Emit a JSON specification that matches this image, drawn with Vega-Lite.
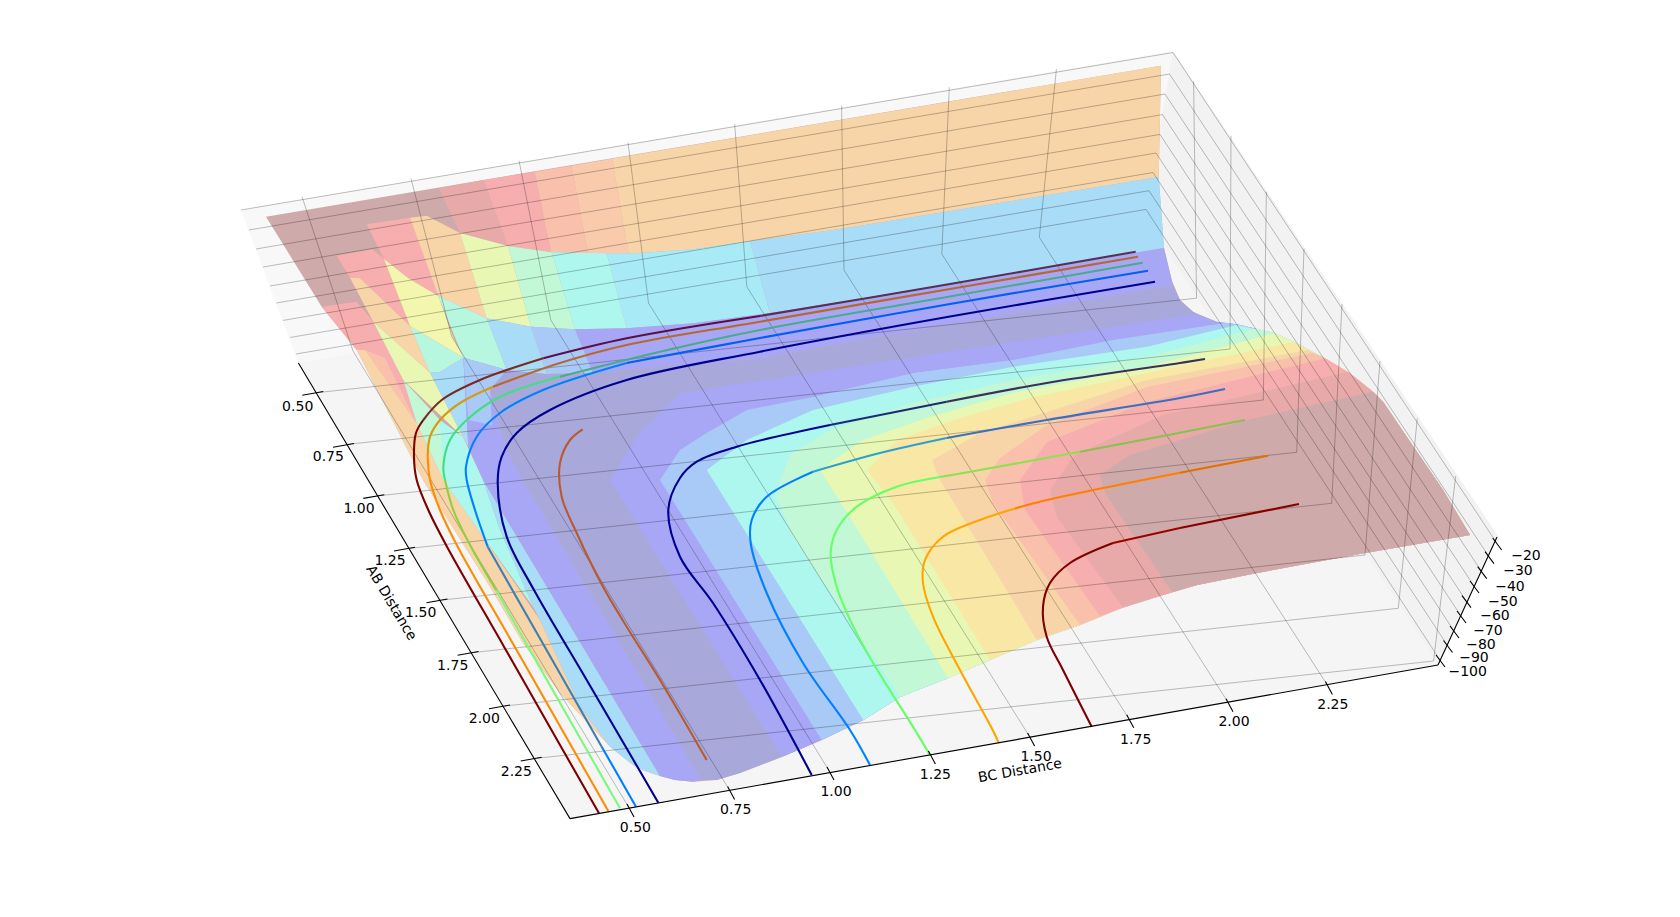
{
"$schema":"https://vega.github.io/schema/vega-lite/v6.json",
"width":1680,"height":917,"padding":0,"autosize":{"type":"fit","contains":"padding"},
"background":"white",
"config":{"view":{"stroke":null}},
"datasets":{
"surface":[
{"shape":"wall_l","band":"wall_l","u":241,"v":210},{"shape":"wall_l","band":"wall_l","u":1173,"v":51},{"shape":"wall_l","band":"wall_l","u":1144,"v":217.5},{"shape":"wall_l","band":"wall_l","u":298.4,"v":363},
{"shape":"wall_r","band":"wall_r","u":1173,"v":51},{"shape":"wall_r","band":"wall_r","u":1498,"v":536},{"shape":"wall_r","band":"wall_r","u":1438,"v":665},{"shape":"wall_r","band":"wall_r","u":1144,"v":217.5},
{"shape":"floor","band":"floor","u":298.4,"v":363},{"shape":"floor","band":"floor","u":1144,"v":217.5},{"shape":"floor","band":"floor","u":1438,"v":665},{"shape":"floor","band":"floor","u":570,"v":818.6},

{"shape":"base","band":"M","u":266,"v":216.7},{"shape":"base","band":"M","u":1161,"v":65.7},{"shape":"base","band":"M","u":1158.7,"v":177},{"shape":"base","band":"M","u":1164,"v":248},{"shape":"base","band":"M","u":1171.7,"v":280},{"shape":"base","band":"M","u":1180,"v":300},{"shape":"base","band":"M","u":1193,"v":311.7},{"shape":"base","band":"M","u":1216.7,"v":321.7},{"shape":"base","band":"M","u":1236.7,"v":324.3},{"shape":"base","band":"M","u":1275,"v":333.3},{"shape":"base","band":"M","u":1296.7,"v":343.3},{"shape":"base","band":"M","u":1325,"v":358.3},{"shape":"base","band":"M","u":1350,"v":373.3},{"shape":"base","band":"M","u":1373,"v":391.7},{"shape":"base","band":"M","u":1383,"v":401.7},{"shape":"base","band":"M","u":1406.7,"v":436.7},{"shape":"base","band":"M","u":1443,"v":490},{"shape":"base","band":"M","u":1470,"v":535},{"shape":"base","band":"M","u":1365,"v":553},{"shape":"base","band":"M","u":1257,"v":573},{"shape":"base","band":"M","u":1197,"v":585},{"shape":"base","band":"M","u":1163,"v":595},{"shape":"base","band":"M","u":1123,"v":607.5},{"shape":"base","band":"M","u":1080,"v":625},{"shape":"base","band":"M","u":1036.7,"v":640},{"shape":"base","band":"M","u":990,"v":660},{"shape":"base","band":"M","u":948,"v":678},{"shape":"base","band":"M","u":900,"v":697},{"shape":"base","band":"M","u":863.3,"v":720},{"shape":"base","band":"M","u":821.7,"v":740},{"shape":"base","band":"M","u":781.7,"v":757},{"shape":"base","band":"M","u":740,"v":773},{"shape":"base","band":"M","u":716.7,"v":780},{"shape":"base","band":"M","u":693,"v":781.7},{"shape":"base","band":"M","u":675,"v":780},{"shape":"base","band":"M","u":660,"v":776},{"shape":"base","band":"M","u":645,"v":771},{"shape":"base","band":"M","u":633,"v":765},{"shape":"base","band":"M","u":610,"v":746.7},{"shape":"base","band":"M","u":606.7,"v":743},{"shape":"base","band":"M","u":560,"v":693},{"shape":"base","band":"M","u":523,"v":643},{"shape":"base","band":"M","u":490,"v":586.7},{"shape":"base","band":"M","u":450,"v":523},{"shape":"base","band":"M","u":423,"v":480},{"shape":"base","band":"M","u":356.7,"v":350},{"shape":"base","band":"M","u":321.7,"v":306.7},

{"shape":"top1","band":"R1","u":438.8,"v":188.3},{"shape":"top1","band":"R1","u":483.7,"v":180},{"shape":"top1","band":"R1","u":508,"v":246},{"shape":"top1","band":"R1","u":460,"v":233},
{"shape":"top2","band":"R2","u":483.7,"v":180},{"shape":"top2","band":"R2","u":534.7,"v":171.7},{"shape":"top2","band":"R2","u":551,"v":252},{"shape":"top2","band":"R2","u":508,"v":246},
{"shape":"top3","band":"Sal","u":534.7,"v":171.7},{"shape":"top3","band":"Sal","u":571.4,"v":165.7},{"shape":"top3","band":"Sal","u":588,"v":253.3},{"shape":"top3","band":"Sal","u":551,"v":252},
{"shape":"top4","band":"Sal2","u":571.4,"v":165.7},{"shape":"top4","band":"Sal2","u":612,"v":158.7},{"shape":"top4","band":"Sal2","u":628.6,"v":253.3},{"shape":"top4","band":"Sal2","u":588,"v":253.3},
{"shape":"top5","band":"O","u":612,"v":158.7},{"shape":"top5","band":"O","u":1161,"v":65.7},{"shape":"top5","band":"O","u":1158.7,"v":177},{"shape":"top5","band":"O","u":840,"v":229},{"shape":"top5","band":"O","u":760,"v":240},{"shape":"top5","band":"O","u":693,"v":249.3},{"shape":"top5","band":"O","u":636.7,"v":253.3},{"shape":"top5","band":"O","u":628.6,"v":253.3},

{"shape":"row2a","band":"R2","u":366.7,"v":224.3},{"shape":"row2a","band":"R2","u":410,"v":217.7},{"shape":"row2a","band":"R2","u":438.3,"v":296},{"shape":"row2a","band":"R2","u":408.3,"v":278.3},{"shape":"row2a","band":"R2","u":384,"v":259},
{"shape":"row2b","band":"O","u":410,"v":217.7},{"shape":"row2b","band":"O","u":426.7,"v":215.7},{"shape":"row2b","band":"O","u":460,"v":233},{"shape":"row2b","band":"O","u":486.7,"v":318.3},{"shape":"row2b","band":"O","u":438.3,"v":296},
{"shape":"row2c","band":"Yg","u":460,"v":233},{"shape":"row2c","band":"Yg","u":508,"v":246},{"shape":"row2c","band":"Yg","u":531,"v":326.7},{"shape":"row2c","band":"Yg","u":486.7,"v":318.3},
{"shape":"row2d","band":"G","u":508,"v":246},{"shape":"row2d","band":"G","u":551.7,"v":252.3},{"shape":"row2d","band":"G","u":575,"v":329.3},{"shape":"row2d","band":"G","u":531,"v":326.7},
{"shape":"row2e","band":"C","u":551.7,"v":252.3},{"shape":"row2e","band":"C","u":606.7,"v":253.3},{"shape":"row2e","band":"C","u":626.7,"v":328.3},{"shape":"row2e","band":"C","u":575,"v":329.3},
{"shape":"row2f","band":"LC","u":606.7,"v":253.3},{"shape":"row2f","band":"LC","u":636.7,"v":253.3},{"shape":"row2f","band":"LC","u":693,"v":249.3},{"shape":"row2f","band":"LC","u":750,"v":241},{"shape":"row2f","band":"LC","u":770,"v":313},{"shape":"row2f","band":"LC","u":693.3,"v":323.3},{"shape":"row2f","band":"LC","u":626.7,"v":328.3},
{"shape":"row2g","band":"LB","u":750,"v":241},{"shape":"row2g","band":"LB","u":840,"v":229},{"shape":"row2g","band":"LB","u":1158.7,"v":177},{"shape":"row2g","band":"LB","u":1164,"v":248},{"shape":"row2g","band":"LB","u":840,"v":302},{"shape":"row2g","band":"LB","u":770,"v":313},

{"shape":"row3a","band":"R2","u":336.7,"v":255.7},{"shape":"row3a","band":"R2","u":372.7,"v":249.3},{"shape":"row3a","band":"R2","u":384,"v":259},{"shape":"row3a","band":"R2","u":410,"v":326},{"shape":"row3a","band":"R2","u":360,"v":278.3},{"shape":"row3a","band":"R2","u":350,"v":277.7},
{"shape":"row3b","band":"Y","u":384,"v":259},{"shape":"row3b","band":"Y","u":408.3,"v":278.3},{"shape":"row3b","band":"Y","u":438.3,"v":296},{"shape":"row3b","band":"Y","u":453,"v":337},{"shape":"row3b","band":"Y","u":463.3,"v":357.7},{"shape":"row3b","band":"Y","u":410,"v":326},
{"shape":"row3c","band":"C2","u":438.3,"v":296},{"shape":"row3c","band":"C2","u":486.7,"v":318.3},{"shape":"row3c","band":"C2","u":506.7,"v":370},{"shape":"row3c","band":"C2","u":463.3,"v":357.7},
{"shape":"row3d","band":"LB","u":486.7,"v":318.3},{"shape":"row3d","band":"LB","u":531,"v":326.7},{"shape":"row3d","band":"LB","u":546.7,"v":374},{"shape":"row3d","band":"LB","u":506.7,"v":370},
{"shape":"row3e","band":"B","u":531,"v":326.7},{"shape":"row3e","band":"B","u":575,"v":329.3},{"shape":"row3e","band":"B","u":593,"v":373},{"shape":"row3e","band":"B","u":546.7,"v":374},
{"shape":"row3f","band":"P","u":575,"v":329.3},{"shape":"row3f","band":"P","u":626.7,"v":328.3},{"shape":"row3f","band":"P","u":693.3,"v":323.3},{"shape":"row3f","band":"P","u":770,"v":313},{"shape":"row3f","band":"P","u":840,"v":302},{"shape":"row3f","band":"P","u":1164,"v":248},{"shape":"row3f","band":"P","u":1171.7,"v":280},{"shape":"row3f","band":"P","u":1173,"v":285},{"shape":"row3f","band":"P","u":1165,"v":287},{"shape":"row3f","band":"P","u":840,"v":343.7},{"shape":"row3f","band":"P","u":760,"v":359},{"shape":"row3f","band":"P","u":660,"v":366.7},{"shape":"row3f","band":"P","u":593,"v":373},

{"shape":"left1","band":"R2","u":321.7,"v":306.7},{"shape":"left1","band":"R2","u":356.7,"v":301.7},{"shape":"left1","band":"R2","u":373.3,"v":321.7},{"shape":"left1","band":"R2","u":403.3,"v":380},{"shape":"left1","band":"R2","u":416.7,"v":423.3},{"shape":"left1","band":"R2","u":365,"v":350},{"shape":"left1","band":"R2","u":356.7,"v":350},
{"shape":"left2","band":"Sal","u":365,"v":350},{"shape":"left2","band":"Sal","u":385,"v":358},{"shape":"left2","band":"Sal","u":416.7,"v":423.3},
{"shape":"left3","band":"O","u":356.7,"v":350},{"shape":"left3","band":"O","u":365,"v":350},{"shape":"left3","band":"O","u":416.7,"v":423.3},{"shape":"left3","band":"O","u":443.3,"v":480},{"shape":"left3","band":"O","u":483,"v":536.7},{"shape":"left3","band":"O","u":540,"v":620},{"shape":"left3","band":"O","u":580,"v":706.7},{"shape":"left3","band":"O","u":610,"v":746.7},{"shape":"left3","band":"O","u":606.7,"v":743},{"shape":"left3","band":"O","u":560,"v":693},{"shape":"left3","band":"O","u":523,"v":643},{"shape":"left3","band":"O","u":490,"v":586.7},{"shape":"left3","band":"O","u":450,"v":523},{"shape":"left3","band":"O","u":423,"v":480},
{"shape":"left4","band":"O","u":350,"v":277.7},{"shape":"left4","band":"O","u":360,"v":278.3},{"shape":"left4","band":"O","u":410,"v":326},{"shape":"left4","band":"O","u":430,"v":372.7},{"shape":"left4","band":"O","u":373.3,"v":321.7},
{"shape":"left5","band":"Yg","u":373.3,"v":321.7},{"shape":"left5","band":"Yg","u":430,"v":372.7},{"shape":"left5","band":"Yg","u":463,"v":437},{"shape":"left5","band":"Yg","u":403.3,"v":380},
{"shape":"left6","band":"C2","u":410,"v":326},{"shape":"left6","band":"C2","u":463.3,"v":357.7},{"shape":"left6","band":"C2","u":440,"v":372},{"shape":"left6","band":"C2","u":430,"v":372.7},
{"shape":"left7","band":"LB","u":430,"v":372.7},{"shape":"left7","band":"LB","u":440,"v":372},{"shape":"left7","band":"LB","u":463.3,"v":357.7},{"shape":"left7","band":"LB","u":468.3,"v":446.7},{"shape":"left7","band":"LB","u":463,"v":437},
{"shape":"left8","band":"G","u":403.3,"v":380},{"shape":"left8","band":"G","u":440,"v":420},{"shape":"left8","band":"G","u":450,"v":490},{"shape":"left8","band":"G","u":443.3,"v":480},{"shape":"left8","band":"G","u":416.7,"v":423.3},
{"shape":"left9","band":"C","u":440,"v":420},{"shape":"left9","band":"C","u":463,"v":437},{"shape":"left9","band":"C","u":483,"v":480},{"shape":"left9","band":"C","u":500,"v":530},{"shape":"left9","band":"C","u":533,"v":606.7},{"shape":"left9","band":"C","u":483,"v":536.7},{"shape":"left9","band":"C","u":443.3,"v":480},
{"shape":"left10","band":"LB","u":483,"v":480},{"shape":"left10","band":"LB","u":660,"v":776},{"shape":"left10","band":"LB","u":645,"v":771},{"shape":"left10","band":"LB","u":633,"v":765},{"shape":"left10","band":"LB","u":610,"v":746.7},{"shape":"left10","band":"LB","u":580,"v":706.7},{"shape":"left10","band":"LB","u":540,"v":620},{"shape":"left10","band":"LB","u":533,"v":606.7},{"shape":"left10","band":"LB","u":500,"v":530},

{"shape":"mid1","band":"P","u":463.3,"v":357.7},{"shape":"mid1","band":"P","u":506.7,"v":370},{"shape":"mid1","band":"P","u":490,"v":390},{"shape":"mid1","band":"P","u":506.7,"v":450},{"shape":"mid1","band":"P","u":523,"v":480},{"shape":"mid1","band":"P","u":701.7,"v":780},{"shape":"mid1","band":"P","u":693,"v":781.7},{"shape":"mid1","band":"P","u":675,"v":780},{"shape":"mid1","band":"P","u":660,"v":776},{"shape":"mid1","band":"P","u":483,"v":480},{"shape":"mid1","band":"P","u":468.3,"v":446.7},
{"shape":"mid2","band":"B","u":463.3,"v":357.7},{"shape":"mid2","band":"B","u":506.7,"v":370},{"shape":"mid2","band":"B","u":490,"v":390},{"shape":"mid2","band":"B","u":492,"v":425},{"shape":"mid2","band":"B","u":468.3,"v":420},

{"shape":"dark","band":"D","u":523,"v":480},{"shape":"dark","band":"D","u":506.7,"v":450},{"shape":"dark","band":"D","u":490,"v":390},{"shape":"dark","band":"D","u":506.7,"v":370},{"shape":"dark","band":"D","u":546.7,"v":374},{"shape":"dark","band":"D","u":593,"v":373},{"shape":"dark","band":"D","u":660,"v":366.7},{"shape":"dark","band":"D","u":760,"v":359},{"shape":"dark","band":"D","u":840,"v":343.7},{"shape":"dark","band":"D","u":1165,"v":287},{"shape":"dark","band":"D","u":1173,"v":285},{"shape":"dark","band":"D","u":1180,"v":300},{"shape":"dark","band":"D","u":1193,"v":311.7},{"shape":"dark","band":"D","u":1197,"v":314},{"shape":"dark","band":"D","u":1197,"v":585},{"shape":"dark","band":"D","u":1163,"v":595},{"shape":"dark","band":"D","u":1123,"v":607.5},{"shape":"dark","band":"D","u":1080,"v":625},{"shape":"dark","band":"D","u":1036.7,"v":640},{"shape":"dark","band":"D","u":990,"v":660},{"shape":"dark","band":"D","u":948,"v":678},{"shape":"dark","band":"D","u":900,"v":697},{"shape":"dark","band":"D","u":863.3,"v":720},{"shape":"dark","band":"D","u":821.7,"v":740},{"shape":"dark","band":"D","u":781.7,"v":757},{"shape":"dark","band":"D","u":740,"v":773},{"shape":"dark","band":"D","u":716.7,"v":780},{"shape":"dark","band":"D","u":701.7,"v":780},

{"shape":"lvP","band":"P","u":781.7,"v":757},{"shape":"lvP","band":"P","u":610,"v":480},{"shape":"lvP","band":"P","u":640,"v":432},{"shape":"lvP","band":"P","u":680,"v":393},{"shape":"lvP","band":"P","u":1197,"v":314},{"shape":"lvP","band":"P","u":1216.7,"v":321.7},{"shape":"lvP","band":"P","u":1236.7,"v":324.3},{"shape":"lvP","band":"P","u":1275,"v":333.3},{"shape":"lvP","band":"P","u":1296.7,"v":343.3},{"shape":"lvP","band":"P","u":1325,"v":358.3},{"shape":"lvP","band":"P","u":1350,"v":373.3},{"shape":"lvP","band":"P","u":1373,"v":391.7},{"shape":"lvP","band":"P","u":1383,"v":401.7},{"shape":"lvP","band":"P","u":1406.7,"v":436.7},{"shape":"lvP","band":"P","u":1443,"v":490},{"shape":"lvP","band":"P","u":1470,"v":535},{"shape":"lvP","band":"P","u":1365,"v":553},{"shape":"lvP","band":"P","u":1257,"v":573},{"shape":"lvP","band":"P","u":1197,"v":585},{"shape":"lvP","band":"P","u":1163,"v":595},{"shape":"lvP","band":"P","u":1123,"v":607.5},{"shape":"lvP","band":"P","u":1080,"v":625},{"shape":"lvP","band":"P","u":1036.7,"v":640},{"shape":"lvP","band":"P","u":990,"v":660},{"shape":"lvP","band":"P","u":948,"v":678},{"shape":"lvP","band":"P","u":900,"v":697},{"shape":"lvP","band":"P","u":863.3,"v":720},{"shape":"lvP","band":"P","u":821.7,"v":740},

{"shape":"lvB","band":"B","u":821.7,"v":740},{"shape":"lvB","band":"B","u":660,"v":480},{"shape":"lvB","band":"B","u":680,"v":450},{"shape":"lvB","band":"B","u":706.7,"v":433},{"shape":"lvB","band":"B","u":746.7,"v":410},{"shape":"lvB","band":"B","u":813,"v":397},{"shape":"lvB","band":"B","u":913,"v":373},{"shape":"lvB","band":"B","u":1013,"v":360},{"shape":"lvB","band":"B","u":1113,"v":340},{"shape":"lvB","band":"B","u":1226.7,"v":322.7},{"shape":"lvB","band":"B","u":1236.7,"v":324.3},{"shape":"lvB","band":"B","u":1275,"v":333.3},{"shape":"lvB","band":"B","u":1296.7,"v":343.3},{"shape":"lvB","band":"B","u":1325,"v":358.3},{"shape":"lvB","band":"B","u":1350,"v":373.3},{"shape":"lvB","band":"B","u":1373,"v":391.7},{"shape":"lvB","band":"B","u":1383,"v":401.7},{"shape":"lvB","band":"B","u":1406.7,"v":436.7},{"shape":"lvB","band":"B","u":1443,"v":490},{"shape":"lvB","band":"B","u":1470,"v":535},{"shape":"lvB","band":"B","u":1365,"v":553},{"shape":"lvB","band":"B","u":1257,"v":573},{"shape":"lvB","band":"B","u":1197,"v":585},{"shape":"lvB","band":"B","u":1163,"v":595},{"shape":"lvB","band":"B","u":1123,"v":607.5},{"shape":"lvB","band":"B","u":1080,"v":625},{"shape":"lvB","band":"B","u":1036.7,"v":640},{"shape":"lvB","band":"B","u":990,"v":660},{"shape":"lvB","band":"B","u":948,"v":678},{"shape":"lvB","band":"B","u":900,"v":697},{"shape":"lvB","band":"B","u":863.3,"v":720},

{"shape":"lvC","band":"C","u":863.3,"v":720},{"shape":"lvC","band":"C","u":706.7,"v":470},{"shape":"lvC","band":"C","u":746.7,"v":440},{"shape":"lvC","band":"C","u":813,"v":410},{"shape":"lvC","band":"C","u":913,"v":386.7},{"shape":"lvC","band":"C","u":1013,"v":366.7},{"shape":"lvC","band":"C","u":1147,"v":346.7},{"shape":"lvC","band":"C","u":1236.7,"v":325},{"shape":"lvC","band":"C","u":1275,"v":333.3},{"shape":"lvC","band":"C","u":1296.7,"v":343.3},{"shape":"lvC","band":"C","u":1325,"v":358.3},{"shape":"lvC","band":"C","u":1350,"v":373.3},{"shape":"lvC","band":"C","u":1373,"v":391.7},{"shape":"lvC","band":"C","u":1383,"v":401.7},{"shape":"lvC","band":"C","u":1406.7,"v":436.7},{"shape":"lvC","band":"C","u":1443,"v":490},{"shape":"lvC","band":"C","u":1470,"v":535},{"shape":"lvC","band":"C","u":1365,"v":553},{"shape":"lvC","band":"C","u":1257,"v":573},{"shape":"lvC","band":"C","u":1197,"v":585},{"shape":"lvC","band":"C","u":1163,"v":595},{"shape":"lvC","band":"C","u":1123,"v":607.5},{"shape":"lvC","band":"C","u":1080,"v":625},{"shape":"lvC","band":"C","u":1036.7,"v":640},{"shape":"lvC","band":"C","u":990,"v":660},{"shape":"lvC","band":"C","u":948,"v":678},{"shape":"lvC","band":"C","u":900,"v":697},

{"shape":"lvG","band":"G","u":900,"v":697},{"shape":"lvG","band":"G","u":793,"v":537},{"shape":"lvG","band":"G","u":775,"v":495},{"shape":"lvG","band":"G","u":790,"v":455},{"shape":"lvG","band":"G","u":830,"v":430},{"shape":"lvG","band":"G","u":913,"v":403},{"shape":"lvG","band":"G","u":1013,"v":380},{"shape":"lvG","band":"G","u":1147,"v":357},{"shape":"lvG","band":"G","u":1256.7,"v":328.3},{"shape":"lvG","band":"G","u":1275,"v":333.3},{"shape":"lvG","band":"G","u":1296.7,"v":343.3},{"shape":"lvG","band":"G","u":1325,"v":358.3},{"shape":"lvG","band":"G","u":1350,"v":373.3},{"shape":"lvG","band":"G","u":1373,"v":391.7},{"shape":"lvG","band":"G","u":1383,"v":401.7},{"shape":"lvG","band":"G","u":1406.7,"v":436.7},{"shape":"lvG","band":"G","u":1443,"v":490},{"shape":"lvG","band":"G","u":1470,"v":535},{"shape":"lvG","band":"G","u":1365,"v":553},{"shape":"lvG","band":"G","u":1257,"v":573},{"shape":"lvG","band":"G","u":1197,"v":585},{"shape":"lvG","band":"G","u":1163,"v":595},{"shape":"lvG","band":"G","u":1123,"v":607.5},{"shape":"lvG","band":"G","u":1080,"v":625},{"shape":"lvG","band":"G","u":1036.7,"v":640},{"shape":"lvG","band":"G","u":990,"v":660},{"shape":"lvG","band":"G","u":948,"v":678},

{"shape":"lvYg","band":"Yg","u":948,"v":678},{"shape":"lvYg","band":"Yg","u":850,"v":517},{"shape":"lvYg","band":"Yg","u":820,"v":470},{"shape":"lvYg","band":"Yg","u":863,"v":440},{"shape":"lvYg","band":"Yg","u":930,"v":417},{"shape":"lvYg","band":"Yg","u":1013,"v":393},{"shape":"lvYg","band":"Yg","u":1147,"v":367},{"shape":"lvYg","band":"Yg","u":1275,"v":333.3},{"shape":"lvYg","band":"Yg","u":1296.7,"v":343.3},{"shape":"lvYg","band":"Yg","u":1325,"v":358.3},{"shape":"lvYg","band":"Yg","u":1350,"v":373.3},{"shape":"lvYg","band":"Yg","u":1373,"v":391.7},{"shape":"lvYg","band":"Yg","u":1383,"v":401.7},{"shape":"lvYg","band":"Yg","u":1406.7,"v":436.7},{"shape":"lvYg","band":"Yg","u":1443,"v":490},{"shape":"lvYg","band":"Yg","u":1470,"v":535},{"shape":"lvYg","band":"Yg","u":1365,"v":553},{"shape":"lvYg","band":"Yg","u":1257,"v":573},{"shape":"lvYg","band":"Yg","u":1197,"v":585},{"shape":"lvYg","band":"Yg","u":1163,"v":595},{"shape":"lvYg","band":"Yg","u":1123,"v":607.5},{"shape":"lvYg","band":"Yg","u":1080,"v":625},{"shape":"lvYg","band":"Yg","u":1036.7,"v":640},{"shape":"lvYg","band":"Yg","u":990,"v":660},

{"shape":"lvYo","band":"Yo","u":990,"v":660},{"shape":"lvYo","band":"Yo","u":893,"v":503},{"shape":"lvYo","band":"Yo","u":867,"v":470},{"shape":"lvYo","band":"Yo","u":897,"v":440},{"shape":"lvYo","band":"Yo","u":963,"v":417},{"shape":"lvYo","band":"Yo","u":1030,"v":398},{"shape":"lvYo","band":"Yo","u":1147,"v":373},{"shape":"lvYo","band":"Yo","u":1293,"v":342},{"shape":"lvYo","band":"Yo","u":1325,"v":358.3},{"shape":"lvYo","band":"Yo","u":1350,"v":373.3},{"shape":"lvYo","band":"Yo","u":1373,"v":391.7},{"shape":"lvYo","band":"Yo","u":1383,"v":401.7},{"shape":"lvYo","band":"Yo","u":1406.7,"v":436.7},{"shape":"lvYo","band":"Yo","u":1443,"v":490},{"shape":"lvYo","band":"Yo","u":1470,"v":535},{"shape":"lvYo","band":"Yo","u":1365,"v":553},{"shape":"lvYo","band":"Yo","u":1257,"v":573},{"shape":"lvYo","band":"Yo","u":1197,"v":585},{"shape":"lvYo","band":"Yo","u":1163,"v":595},{"shape":"lvYo","band":"Yo","u":1123,"v":607.5},{"shape":"lvYo","band":"Yo","u":1080,"v":625},{"shape":"lvYo","band":"Yo","u":1036.7,"v":640},

{"shape":"lvO","band":"O","u":1036.7,"v":640},{"shape":"lvO","band":"O","u":940,"v":480},{"shape":"lvO","band":"O","u":932,"v":460},{"shape":"lvO","band":"O","u":980,"v":433},{"shape":"lvO","band":"O","u":1047,"v":412},{"shape":"lvO","band":"O","u":1147,"v":380},{"shape":"lvO","band":"O","u":1308,"v":350},{"shape":"lvO","band":"O","u":1325,"v":358.3},{"shape":"lvO","band":"O","u":1350,"v":373.3},{"shape":"lvO","band":"O","u":1373,"v":391.7},{"shape":"lvO","band":"O","u":1383,"v":401.7},{"shape":"lvO","band":"O","u":1406.7,"v":436.7},{"shape":"lvO","band":"O","u":1443,"v":490},{"shape":"lvO","band":"O","u":1470,"v":535},{"shape":"lvO","band":"O","u":1365,"v":553},{"shape":"lvO","band":"O","u":1257,"v":573},{"shape":"lvO","band":"O","u":1197,"v":585},{"shape":"lvO","band":"O","u":1163,"v":595},{"shape":"lvO","band":"O","u":1123,"v":607.5},{"shape":"lvO","band":"O","u":1080,"v":625},

{"shape":"lvSal","band":"Sal","u":1080,"v":625},{"shape":"lvSal","band":"Sal","u":993,"v":503},{"shape":"lvSal","band":"Sal","u":985,"v":480},{"shape":"lvSal","band":"Sal","u":1000,"v":458},{"shape":"lvSal","band":"Sal","u":1047,"v":425},{"shape":"lvSal","band":"Sal","u":1147,"v":387},{"shape":"lvSal","band":"Sal","u":1313,"v":353},{"shape":"lvSal","band":"Sal","u":1325,"v":358.3},{"shape":"lvSal","band":"Sal","u":1350,"v":373.3},{"shape":"lvSal","band":"Sal","u":1373,"v":391.7},{"shape":"lvSal","band":"Sal","u":1383,"v":401.7},{"shape":"lvSal","band":"Sal","u":1406.7,"v":436.7},{"shape":"lvSal","band":"Sal","u":1443,"v":490},{"shape":"lvSal","band":"Sal","u":1470,"v":535},{"shape":"lvSal","band":"Sal","u":1365,"v":553},{"shape":"lvSal","band":"Sal","u":1257,"v":573},{"shape":"lvSal","band":"Sal","u":1197,"v":585},{"shape":"lvSal","band":"Sal","u":1163,"v":595},{"shape":"lvSal","band":"Sal","u":1123,"v":607.5},

{"shape":"lvR2","band":"R2","u":1100,"v":616},{"shape":"lvR2","band":"R2","u":1025,"v":510},{"shape":"lvR2","band":"R2","u":1020,"v":480},{"shape":"lvR2","band":"R2","u":1047,"v":442},{"shape":"lvR2","band":"R2","u":1147,"v":402},{"shape":"lvR2","band":"R2","u":1325,"v":358.3},{"shape":"lvR2","band":"R2","u":1350,"v":373.3},{"shape":"lvR2","band":"R2","u":1373,"v":391.7},{"shape":"lvR2","band":"R2","u":1383,"v":401.7},{"shape":"lvR2","band":"R2","u":1406.7,"v":436.7},{"shape":"lvR2","band":"R2","u":1443,"v":490},{"shape":"lvR2","band":"R2","u":1470,"v":535},{"shape":"lvR2","band":"R2","u":1365,"v":553},{"shape":"lvR2","band":"R2","u":1257,"v":573},{"shape":"lvR2","band":"R2","u":1197,"v":585},{"shape":"lvR2","band":"R2","u":1163,"v":595},{"shape":"lvR2","band":"R2","u":1123,"v":607.5},

{"shape":"lvR1","band":"R1","u":1123,"v":607.5},{"shape":"lvR1","band":"R1","u":1057,"v":517},{"shape":"lvR1","band":"R1","u":1050,"v":490},{"shape":"lvR1","band":"R1","u":1075,"v":455},{"shape":"lvR1","band":"R1","u":1163,"v":415},{"shape":"lvR1","band":"R1","u":1347,"v":372},{"shape":"lvR1","band":"R1","u":1373,"v":391.7},{"shape":"lvR1","band":"R1","u":1383,"v":401.7},{"shape":"lvR1","band":"R1","u":1406.7,"v":436.7},{"shape":"lvR1","band":"R1","u":1443,"v":490},{"shape":"lvR1","band":"R1","u":1470,"v":535},{"shape":"lvR1","band":"R1","u":1365,"v":553},{"shape":"lvR1","band":"R1","u":1257,"v":573},{"shape":"lvR1","band":"R1","u":1197,"v":585},{"shape":"lvR1","band":"R1","u":1163,"v":595},

{"shape":"lvM","band":"M","u":1172,"v":592},{"shape":"lvM","band":"M","u":1105,"v":493},{"shape":"lvM","band":"M","u":1100,"v":475},{"shape":"lvM","band":"M","u":1130,"v":455},{"shape":"lvM","band":"M","u":1247,"v":420},{"shape":"lvM","band":"M","u":1373,"v":391.7},{"shape":"lvM","band":"M","u":1383,"v":401.7},{"shape":"lvM","band":"M","u":1406.7,"v":436.7},{"shape":"lvM","band":"M","u":1443,"v":490},{"shape":"lvM","band":"M","u":1470,"v":535},{"shape":"lvM","band":"M","u":1365,"v":553},{"shape":"lvM","band":"M","u":1257,"v":573},{"shape":"lvM","band":"M","u":1197,"v":585}
],
"grid":[
{"g":"z20","u":241,"v":210},{"g":"z20","u":1173,"v":52.5},{"g":"z20","u":1496.7,"v":543},
{"g":"z30","u":249,"v":230},{"g":"z30","u":1169.5,"v":74},{"g":"z30","u":1489,"v":556.7},
{"g":"z40","u":256,"v":249},{"g":"z40","u":1165,"v":94},{"g":"z40","u":1481.7,"v":571.7},
{"g":"z50","u":263,"v":267},{"g":"z50","u":1162.5,"v":114.6},{"g":"z50","u":1474,"v":586},
{"g":"z60","u":270,"v":286},{"g":"z60","u":1160,"v":134.4},{"g":"z60","u":1466,"v":600.7},
{"g":"z70","u":276.4,"v":303},{"g":"z70","u":1156,"v":153},{"g":"z70","u":1461,"v":616},
{"g":"z80","u":283,"v":320.4},{"g":"z80","u":1153,"v":172.5},{"g":"z80","u":1454,"v":631},
{"g":"z90","u":290,"v":337.5},{"g":"z90","u":1149,"v":190.7},{"g":"z90","u":1447.5,"v":645.5},
{"g":"z100","u":296,"v":354},{"g":"z100","u":1146,"v":209.4},{"g":"z100","u":1440,"v":660},
{"g":"bc050","u":628,"v":806},{"g":"bc050","u":353,"v":351},{"g":"bc050","u":302,"v":196.7},
{"g":"bc075","u":728.6,"v":788.6},{"g":"bc075","u":451.7,"v":336.5},{"g":"bc075","u":411,"v":178.4},
{"g":"bc100","u":828,"v":769},{"g":"bc100","u":550.8,"v":320},{"g":"bc100","u":519,"v":160.7},
{"g":"bc125","u":929.4,"v":753},{"g":"bc125","u":648.5,"v":303},{"g":"bc125","u":628,"v":142.5},
{"g":"bc150","u":1028.6,"v":735},{"g":"bc150","u":746.8,"v":286.7},{"g":"bc150","u":734.7,"v":124},
{"g":"bc175","u":1127.7,"v":716.8},{"g":"bc175","u":844,"v":270},{"g":"bc175","u":841.6,"v":105.6},
{"g":"bc200","u":1227,"v":700.7},{"g":"bc200","u":941.8,"v":254},{"g":"bc200","u":949.3,"v":87.3},
{"g":"bc225","u":1326.4,"v":683.6},{"g":"bc225","u":1039.3,"v":237.3},{"g":"bc225","u":1056.4,"v":69},
{"g":"ab050","u":318.3,"v":392.5},{"g":"ab050","u":1196.5,"v":298.2},{"g":"ab050","u":1193.6,"v":81.4},
{"g":"ab075","u":348,"v":444.3},{"g":"ab075","u":1230,"v":349},{"g":"ab075","u":1231,"v":136},
{"g":"ab100","u":379.3,"v":495.7},{"g":"ab100","u":1263.3,"v":400},{"g":"ab100","u":1266.4,"v":191.8},
{"g":"ab125","u":410,"v":548.3},{"g":"ab125","u":1296.7,"v":452.3},{"g":"ab125","u":1304,"v":248.6},
{"g":"ab150","u":442.5,"v":600},{"g":"ab150","u":1331.7,"v":503.3},{"g":"ab150","u":1342,"v":304},
{"g":"ab175","u":473.6,"v":652.5},{"g":"ab175","u":1365,"v":555},{"g":"ab175","u":1380,"v":361},
{"g":"ab200","u":505,"v":706},{"g":"ab200","u":1398.3,"v":608.3},{"g":"ab200","u":1417.3,"v":418.3},
{"g":"ab225","u":536.7,"v":758.3},{"g":"ab225","u":1433.6,"v":661},{"g":"ab225","u":1455.7,"v":476}
],
"contours":[
{"piece":"L1a","u":599,"v":813.3},{"piece":"L1a","u":561,"v":746.7},{"piece":"L1a","u":504,"v":646.7},{"piece":"L1a","u":447,"v":546.7},{"piece":"L1a","u":428.3,"v":510},{"piece":"L1a","u":416.7,"v":480},{"piece":"L1a","u":414,"v":456.7},{"piece":"L1a","u":416,"v":433},{"piece":"L1a","u":423.3,"v":420},
{"piece":"L1b","u":423.3,"v":420},{"piece":"L1b","u":441.7,"v":400},{"piece":"L1b","u":480,"v":380},{"piece":"L1b","u":543.3,"v":358.3},
{"piece":"L1c","u":543.3,"v":358.3},{"piece":"L1c","u":626.7,"v":338.3},{"piece":"L1c","u":760,"v":316},
{"piece":"L1d","u":760,"v":316},{"piece":"L1d","u":950,"v":284},{"piece":"L1d","u":1135.7,"v":251.7},
{"piece":"L2a","u":608.3,"v":811},{"piece":"L2a","u":571.7,"v":746.7},{"piece":"L2a","u":514.7,"v":646.7},{"piece":"L2a","u":457.7,"v":546.7},{"piece":"L2a","u":440,"v":510},{"piece":"L2a","u":430,"v":480},{"piece":"L2a","u":427.7,"v":456.7},
{"piece":"L2b","u":427.7,"v":456.7},{"piece":"L2b","u":430,"v":436.7},{"piece":"L2b","u":440,"v":420},{"piece":"L2b","u":460,"v":403},{"piece":"L2b","u":493,"v":386.7},
{"piece":"L2c","u":493,"v":386.7},{"piece":"L2c","u":560,"v":363},{"piece":"L2c","u":626.7,"v":345},{"piece":"L2c","u":760,"v":321.7},{"piece":"L2c","u":950,"v":289},{"piece":"L2c","u":1138,"v":256.7},
{"piece":"L3a","u":620,"v":808.3},{"piece":"L3a","u":585,"v":746.7},{"piece":"L3a","u":528,"v":646.7},{"piece":"L3a","u":496,"v":590},
{"piece":"L3b","u":496,"v":590},{"piece":"L3b","u":471,"v":546.7},{"piece":"L3b","u":453.3,"v":510},{"piece":"L3b","u":445,"v":480},
{"piece":"L3c","u":445,"v":480},{"piece":"L3c","u":443.3,"v":466.7},{"piece":"L3c","u":450,"v":440},{"piece":"L3c","u":466.7,"v":420},{"piece":"L3c","u":500,"v":396.7},{"piece":"L3c","u":560,"v":376.7},
{"piece":"L3d","u":560,"v":376.7},{"piece":"L3d","u":660,"v":351.7},{"piece":"L3d","u":760,"v":330},{"piece":"L3d","u":950,"v":296.5},{"piece":"L3d","u":1142.6,"v":262.7},
{"piece":"L4a","u":636,"v":806.7},{"piece":"L4a","u":601.7,"v":746.7},
{"piece":"L4b","u":601.7,"v":746.7},{"piece":"L4b","u":544.7,"v":646.7},{"piece":"L4b","u":487.7,"v":546.7},
{"piece":"L4c","u":487.7,"v":546.7},{"piece":"L4c","u":475,"v":510},{"piece":"L4c","u":466.7,"v":480},{"piece":"L4c","u":466,"v":466.7},{"piece":"L4c","u":476.7,"v":436.7},{"piece":"L4c","u":500,"v":413},{"piece":"L4c","u":543,"v":390},{"piece":"L4c","u":626.7,"v":363},
{"piece":"L4d","u":626.7,"v":363},{"piece":"L4d","u":760,"v":338},{"piece":"L4d","u":950,"v":304},{"piece":"L4d","u":1148,"v":270.7},
{"piece":"L5a","u":658.3,"v":802.7},{"piece":"L5a","u":625.7,"v":746.7},{"piece":"L5a","u":586.7,"v":680},{"piece":"L5a","u":534,"v":590},{"piece":"L5a","u":506.7,"v":536.7},{"piece":"L5a","u":497.7,"v":483},{"piece":"L5a","u":501.7,"v":456.7},{"piece":"L5a","u":516.7,"v":433},{"piece":"L5a","u":550,"v":410},{"piece":"L5a","u":626.7,"v":380},{"piece":"L5a","u":760,"v":351.7},{"piece":"L5a","u":950,"v":316.5},{"piece":"L5a","u":1155,"v":281.7},
{"piece":"In","u":582.7,"v":429.3},{"piece":"In","u":570,"v":440},{"piece":"In","u":560,"v":463},{"piece":"In","u":561.7,"v":496.7},{"piece":"In","u":576.7,"v":533},{"piece":"In","u":603,"v":586.7},{"piece":"In","u":626.7,"v":626.7},{"piece":"In","u":660,"v":680},{"piece":"In","u":706.7,"v":760},
{"piece":"R1a","u":811.7,"v":775},{"piece":"R1a","u":760,"v":680},{"piece":"R1a","u":713,"v":603},{"piece":"R1a","u":680,"v":556.7},{"piece":"R1a","u":668.3,"v":510},{"piece":"R1a","u":680,"v":478},{"piece":"R1a","u":696.7,"v":461.7},{"piece":"R1a","u":736.7,"v":446.7},{"piece":"R1a","u":830,"v":425},
{"piece":"R1b","u":830,"v":425},{"piece":"R1b","u":946.7,"v":401.7},
{"piece":"R1c","u":946.7,"v":401.7},{"piece":"R1c","u":1046.7,"v":383},{"piece":"R1c","u":1180,"v":363},{"piece":"R1c","u":1205,"v":359},
{"piece":"R2a","u":870,"v":765},{"piece":"R2a","u":850,"v":730},{"piece":"R2a","u":803,"v":663},{"piece":"R2a","u":766.7,"v":593},{"piece":"R2a","u":750.7,"v":543},{"piece":"R2a","u":751.7,"v":520},{"piece":"R2a","u":766.7,"v":496.7},{"piece":"R2a","u":813,"v":471.7},
{"piece":"R2b","u":813,"v":471.7},{"piece":"R2b","u":880,"v":453},{"piece":"R2b","u":946.7,"v":438},
{"piece":"R2c","u":946.7,"v":438},{"piece":"R2c","u":1046.7,"v":420},{"piece":"R2c","u":1180,"v":398},{"piece":"R2c","u":1225,"v":389},
{"piece":"R3a","u":930,"v":755},{"piece":"R3a","u":915,"v":730},{"piece":"R3a","u":861.7,"v":643},{"piece":"R3a","u":836.7,"v":586.7},{"piece":"R3a","u":830.7,"v":553},{"piece":"R3a","u":836.7,"v":530},{"piece":"R3a","u":856.7,"v":506.7},{"piece":"R3a","u":896.7,"v":486.7},{"piece":"R3a","u":940,"v":477},
{"piece":"R3b","u":940,"v":477},{"piece":"R3b","u":980,"v":470},{"piece":"R3b","u":1080,"v":451.7},
{"piece":"R3c","u":1080,"v":451.7},{"piece":"R3c","u":1180,"v":432.7},{"piece":"R3c","u":1245,"v":420},
{"piece":"R4a","u":998.6,"v":742.5},{"piece":"R4a","u":992.7,"v":730},{"piece":"R4a","u":960,"v":670},{"piece":"R4a","u":933,"v":616.7},{"piece":"R4a","u":923,"v":583},{"piece":"R4a","u":925,"v":560},{"piece":"R4a","u":943,"v":536.7},{"piece":"R4a","u":980,"v":520},{"piece":"R4a","u":1015,"v":508.5},
{"piece":"R4b","u":1015,"v":508.5},{"piece":"R4b","u":1046.7,"v":500},{"piece":"R4b","u":1180,"v":472.7},
{"piece":"R4c","u":1180,"v":472.7},{"piece":"R4c","u":1268,"v":455.7},
{"piece":"R5a","u":1091.7,"v":726.7},{"piece":"R5a","u":1063,"v":670},{"piece":"R5a","u":1046.7,"v":636.7},{"piece":"R5a","u":1043,"v":606.7},{"piece":"R5a","u":1050,"v":583},{"piece":"R5a","u":1070,"v":563},{"piece":"R5a","u":1113,"v":543},
{"piece":"R5b","u":1113,"v":543},{"piece":"R5b","u":1180,"v":528},
{"piece":"R5c","u":1180,"v":528},{"piece":"R5c","u":1299,"v":504}
],
"axes":[
{"a":"ab","u":298.4,"v":363},{"a":"ab","u":570,"v":818.6},
{"a":"bc","u":570,"v":818.6},{"a":"bc","u":1438,"v":665},
{"a":"z","u":1438,"v":665},{"a":"z","u":1497,"v":537},
{"a":"t1","u":302.3,"v":395.2},{"a":"t1","u":323.3,"v":391.5},
{"a":"t2","u":333,"v":447.3},{"a":"t2","u":354,"v":443.5},
{"a":"t3","u":363.3,"v":498.4},{"a":"t3","u":384.3,"v":494.7},
{"a":"t4","u":394,"v":551},{"a":"t4","u":415,"v":547.3},
{"a":"t5","u":426.5,"v":602.7},{"a":"t5","u":447.5,"v":599},
{"a":"t6","u":457.6,"v":655.2},{"a":"t6","u":478.6,"v":651.5},
{"a":"t7","u":489,"v":708.7},{"a":"t7","u":510,"v":705},
{"a":"t8","u":520.7,"v":761},{"a":"t8","u":541.7,"v":757.3},
{"a":"b1","u":627,"v":804},{"a":"b1","u":634,"v":817},
{"a":"b2","u":727.6,"v":786.6},{"a":"b2","u":734.6,"v":799.6},
{"a":"b3","u":827,"v":767},{"a":"b3","u":834,"v":780},
{"a":"b4","u":928.4,"v":751},{"a":"b4","u":935.4,"v":764},
{"a":"b5","u":1027.6,"v":733},{"a":"b5","u":1034.6,"v":746},
{"a":"b6","u":1126.7,"v":714.8},{"a":"b6","u":1133.7,"v":727.8},
{"a":"b7","u":1226,"v":698.7},{"a":"b7","u":1233,"v":711.7},
{"a":"b8","u":1325.4,"v":681.6},{"a":"b8","u":1332.4,"v":694.6},
{"a":"c1","u":1492.7,"v":538},{"a":"c1","u":1501.7,"v":550},
{"a":"c2","u":1485,"v":551.7},{"a":"c2","u":1494,"v":563.7},
{"a":"c3","u":1477.7,"v":566.7},{"a":"c3","u":1486.7,"v":578.7},
{"a":"c4","u":1470,"v":581},{"a":"c4","u":1479,"v":593},
{"a":"c5","u":1462,"v":595.7},{"a":"c5","u":1471,"v":607.7},
{"a":"c6","u":1457,"v":611},{"a":"c6","u":1466,"v":623},
{"a":"c7","u":1450,"v":626},{"a":"c7","u":1459,"v":638},
{"a":"c8","u":1443.5,"v":640.5},{"a":"c8","u":1452.5,"v":652.5},
{"a":"c9","u":1436,"v":655},{"a":"c9","u":1445,"v":667}
],
"labels":[
{"label":"0.50","u":297.7,"v":406.7},{"label":"0.75","u":328.3,"v":457.3},{"label":"1.00","u":359,"v":509.3},{"label":"1.25","u":390,"v":561},{"label":"1.50","u":420.7,"v":613.3},{"label":"1.75","u":452.7,"v":666},{"label":"2.00","u":484.3,"v":719},{"label":"2.25","u":516.3,"v":772.3},
{"label":"0.50","u":635.4,"v":828},{"label":"0.75","u":735.7,"v":810},{"label":"1.00","u":836,"v":792},{"label":"1.25","u":935.4,"v":774.6},{"label":"1.50","u":1036,"v":756.7},{"label":"1.75","u":1135.7,"v":740},{"label":"2.00","u":1234,"v":722},{"label":"2.25","u":1332.8,"v":705},
{"label":"−20","u":1526,"v":556},{"label":"−30","u":1518,"v":571},{"label":"−40","u":1510,"v":586.7},{"label":"−50","u":1503,"v":602.3},{"label":"−60","u":1495,"v":616},{"label":"−70","u":1488,"v":631},{"label":"−80","u":1481,"v":645},{"label":"−90","u":1474,"v":658},{"label":"−100","u":1467.7,"v":672}
]
},
"encoding":{
"x":{"field":"u","type":"quantitative","scale":{"domain":[0,1680],"nice":false,"zero":false},"axis":null},
"y":{"field":"v","type":"quantitative","scale":{"domain":[917,0],"nice":false,"zero":false},"axis":null}
},
"layer":[
{"data":{"name":"surface"},
"transform":[{"window":[{"op":"row_number","as":"i"}]}],
"mark":{"type":"line","filled":true,"clip":true},
"encoding":{
"order":{"field":"i","type":"quantitative"},
"detail":{"field":"shape"},
"color":{"field":"band","type":"nominal","legend":null,"scale":{
"domain":["wall_l","wall_r","floor","M","R1","R2","Sal","Sal2","O","Yo","Y","Yg","G","C2","C","LC","LB","B","P","D"],
"range":["#f8f8f8","#f2f2f2","#f5f5f5","#cfaaaa","#e8a9a9","#f7aeae","#f9c0ac","#f9caac","#f8d5a9","#f8e7a5","#f3f7ae","#e8f8b4","#c2f8d6","#b7f7df","#aef7ee","#a9eaf7","#a9dcf6","#a9c9f7","#a7a7f6","#a9a8da"]}}}},
{"data":{"name":"grid"},
"transform":[{"window":[{"op":"row_number","as":"i"}]}],
"mark":{"type":"line","color":"black","opacity":0.25,"strokeWidth":1},
"encoding":{"order":{"field":"i","type":"quantitative"},"detail":{"field":"g"}}},
{"data":{"name":"contours"},
"transform":[{"window":[{"op":"row_number","as":"i"}]}],
"mark":{"type":"line","interpolate":"catmull-rom","strokeWidth":2.1},
"encoding":{
"order":{"field":"i","type":"quantitative"},
"color":{"field":"piece","type":"nominal","legend":null,"scale":{
"domain":["L1a","L1b","L1c","L1d","L2a","L2b","L2c","L3a","L3b","L3c","L3d","L4a","L4b","L4c","L4d","L5a","In","R1a","R1b","R1c","R2a","R2b","R2c","R3a","R3b","R3c","R4a","R4b","R4c","R5a","R5b","R5c"],
"range":["#7f0000","#7a2a20","#5a0f45","#573052","#ff8c00","#d89a10","#b5692f","#7cf97c","#8fd040","#40e080","#4aab88","#0080ff","#3d7fb5","#0080ff","#0060f0","#000090","#b85a30","#00008f","#1a2c78","#3d3058","#0080ff","#2da0d0","#3a70c0","#66ff66","#8fe050","#8ac050","#ffa500","#ff8000","#e07000","#7f0000","#a00000","#8a0000"]}}}},
{"data":{"name":"axes"},
"transform":[{"window":[{"op":"row_number","as":"i"}]}],
"mark":{"type":"line","color":"black","strokeWidth":1.1},
"encoding":{"order":{"field":"i","type":"quantitative"},"detail":{"field":"a"}}},
{"data":{"name":"labels"},
"mark":{"type":"text","font":"DejaVu Sans","fontSize":14,"color":"black","align":"center","baseline":"middle"},
"encoding":{"text":{"field":"label"}}},
{"data":{"values":[{"title":"AB Distance","u":391,"v":603}]},
"mark":{"type":"text","font":"DejaVu Sans","fontSize":14,"color":"black","align":"center","baseline":"middle","angle":59},
"encoding":{"text":{"field":"title"}}},
{"data":{"values":[{"title":"BC Distance","u":1020,"v":771}]},
"mark":{"type":"text","font":"DejaVu Sans","fontSize":14,"color":"black","align":"center","baseline":"middle","angle":350},
"encoding":{"text":{"field":"title"}}}
],
"resolve":{"scale":{"color":"independent"}}
}
